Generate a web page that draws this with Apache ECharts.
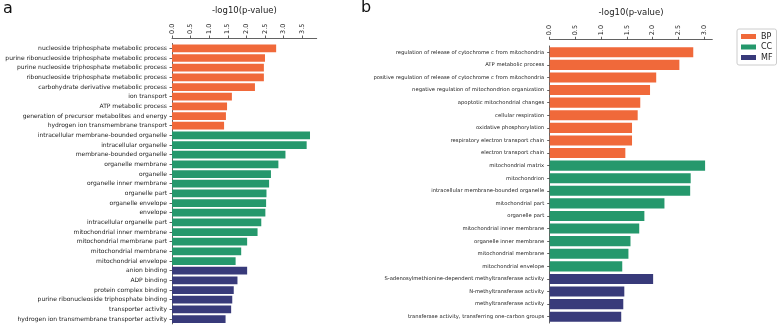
<!DOCTYPE html>
<html><head><meta charset="utf-8">
<script src="https://cdn.jsdelivr.net/npm/echarts@6/dist/echarts.min.js"></script>
<style>html,body{margin:0;padding:0;background:#fff}#c{width:778px;height:328px}</style>
</head><body><div id="c"></div>
<script>
// Panel a
const catsA_BP = ["nucleoside triphosphate metabolic process","purine ribonucleoside triphosphate metabolic process","purine nucleoside triphosphate metabolic process","ribonucleoside triphosphate metabolic process","carbohydrate derivative metabolic process","ion transport","ATP metabolic process","generation of precursor metabolites and energy","hydrogen ion transmembrane transport"];
const valsA_BP = [2.80,2.50,2.47,2.47,2.23,1.61,1.48,1.45,1.40];
const catsA_CC = ["intracellular membrane-bounded organelle","intracellular organelle","membrane-bounded organelle","organelle membrane","organelle","organelle inner membrane","organelle part","organelle envelope","envelope","intracellular organelle part","mitochondrial inner membrane","mitochondrial membrane part","mitochondrial membrane","mitochondrial envelope"];
const valsA_CC = [3.71,3.62,3.05,2.86,2.66,2.61,2.54,2.53,2.51,2.40,2.30,2.02,1.86,1.71];
const catsA_MF = ["anion binding","ADP binding","protein complex binding","purine ribonucleoside triphosphate binding","transporter activity","hydrogen ion transmembrane transporter activity"];
const valsA_MF = [2.02,1.76,1.66,1.62,1.59,1.44];
// Panel b
const catsB_BP = ["regulation of release of cytochrome c from mitochondria","ATP metabolic process","positive regulation of release of cytochrome c from mitochondria","negative regulation of mitochondrion organization","apoptotic mitochondrial changes","cellular respiration","oxidative phosphorylation","respiratory electron transport chain","electron transport chain"];
const valsB_BP = [2.79,2.52,2.07,1.95,1.76,1.71,1.60,1.60,1.47];
const catsB_CC = ["mitochondrial matrix","mitochondrion","intracellular membrane-bounded organelle","mitochondrial part","organelle part","mitochondrial inner membrane","organelle inner membrane","mitochondrial membrane","mitochondrial envelope"];
const valsB_CC = [3.02,2.74,2.73,2.23,1.84,1.74,1.57,1.53,1.41];
const catsB_MF = ["S-adenosylmethionine-dependent methyltransferase activity","N-methyltransferase activity","methyltransferase activity","transferase activity, transferring one-carbon groups"];
const valsB_MF = [2.01,1.45,1.43,1.39];
const ticksA = [0,0.5,1.0,1.5,2.0,2.5,3.0,3.5];
const ticksB = [0,0.5,1.0,1.5,2.0,2.5,3.0];
const groups = ["BP","CC","MF"];
const colors = {BP:"#F0693A", CC:"#25986C", MF:"#383A7A"};

const chart = echarts.init(document.getElementById('c'), null, {renderer:'canvas'});
const FONT = 'DejaVu Sans';
const axisCol = '#3a3a3a';

function seriesFor(idx, lists){
  const cats = [].concat(...lists.map(l=>l[0]));
  const out = [];
  let offset = 0;
  lists.forEach((l,gi)=>{
    const data = cats.map(()=>null);
    l[1].forEach((v,i)=>{ data[offset+i] = v; });
    offset += l[0].length;
    out.push({type:'bar', name:groups[gi], xAxisIndex:idx, yAxisIndex:idx, stack:'s'+idx,
      data, barCategoryGap:'20%', itemStyle:{color:colors[groups[gi]]}});
  });
  return {cats, series:out};
}
const A = seriesFor(0, [[catsA_BP,valsA_BP],[catsA_CC,valsA_CC],[catsA_MF,valsA_MF]]);
const B = seriesFor(1, [[catsB_BP,valsB_BP],[catsB_CC,valsB_CC],[catsB_MF,valsB_MF]]);

function xAx(idx, max, ticks, off){
  return {type:'value', gridIndex:idx, position:'top', min:0, max, offset:off,
    name:'-log10(p-value)', nameLocation:'middle', nameGap:22,
    nameTextStyle:{fontFamily:FONT, fontSize:8.5, color:'#222'},
    axisLine:{show:true, lineStyle:{color:axisCol, width:0.8}},
    axisTick:{show:true, length:2.5, customValues:ticks, lineStyle:{color:axisCol, width:0.8}},
    axisLabel:{show:true, rotate:-90, customValues:ticks, margin:4, fontFamily:FONT, fontSize:6.5, color:'#222',
      formatter:v=>v.toFixed(1)},
    splitLine:{show:false}};
}
function yAx(idx, cats, fs, mg){
  return {type:'category', gridIndex:idx, data:cats, inverse:true,
    axisLine:{show:true, lineStyle:{color:axisCol, width:0.8}},
    axisTick:{show:true, length:2.5, alignWithLabel:true, lineStyle:{color:axisCol, width:0.8}},
    axisLabel:{fontFamily:FONT, fontSize:fs, color:'#222', margin:mg, interval:0},
    splitLine:{show:false}};
}

chart.setOption({
  animation:false,
  textStyle:{fontFamily:FONT},
  grid:[
    {left:172, top:43.5, width:144.7, height:280.4},
    {left:549.7, top:46, width:162.6, height:277}
  ],
  xAxis:[xAx(0,3.89,ticksA,5.5), xAx(1,3.16,ticksB,6.7)],
  yAxis:[yAx(0,A.cats,6.0,5), yAx(1,B.cats,5.25,5.5)],
  legend:{data:groups, orient:'vertical', left:737, top:29, icon:'rect', itemWidth:15, itemHeight:5,
    itemGap:1.5, padding:[3,4,3,4], borderColor:'#cccccc', borderWidth:1, borderRadius:2,
    textStyle:{fontFamily:FONT, fontSize:8, color:'#222', lineHeight:9}},
  graphic:[
    {type:'text', left:3, top:1, style:{text:'a', font:'16px "DejaVu Sans"', fill:'#111'}},
    {type:'text', left:361, top:0, style:{text:'b', font:'16px "DejaVu Sans"', fill:'#111'}}
  ],
  series:[...A.series, ...B.series]
});
</script></body></html>
